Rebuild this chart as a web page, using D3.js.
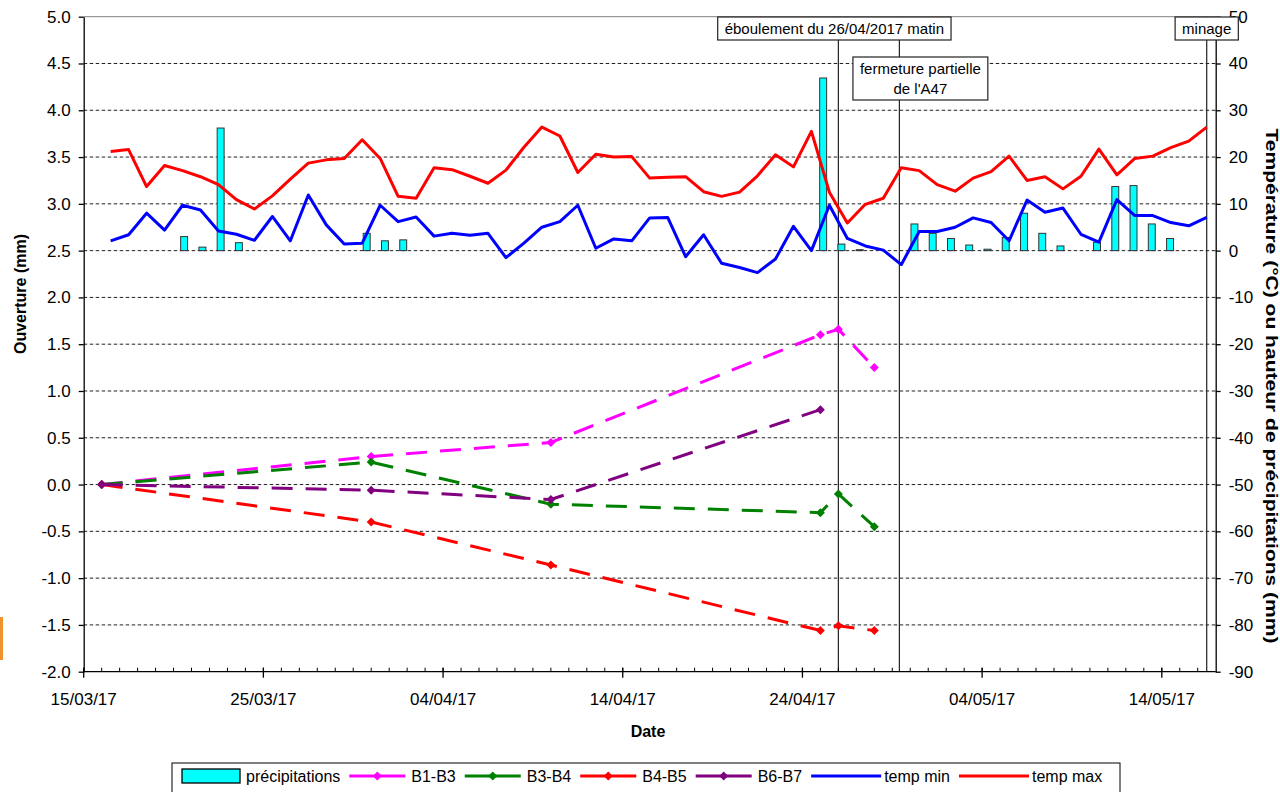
<!DOCTYPE html>
<html>
<head>
<meta charset="utf-8">
<script src="https://cdn.jsdelivr.net/npm/d3@7"></script>
<style>
  body { margin: 0; background: #fff; }
  svg { display: block; }
  text { font-family: "Liberation Sans", Arial, sans-serif; fill: #000; }
</style>
</head>
<body>
<svg id="chart" width="1280" height="792"></svg>
<script>
// ---- data ----------------------------------------------------------------
const utc = (y, m, d, h = 0, mi = 0) => new Date(Date.UTC(y, m, d, h, mi));

// daily weather readings (one per day, 16/03/2017 to 16/05/2017, taken at noon)
const weatherStart = utc(2017, 2, 16, 12);
const weatherDays = d3.range(62).map(i => d3.utcDay.offset(weatherStart, i));

const tempMin = [2.1, 3.4, 8.0, 4.4, 9.7, 8.7, 4.2, 3.5, 2.2, 7.3,
                 2.1, 11.9, 5.5, 1.4, 1.6, 9.7, 6.2, 7.2, 3.1, 3.7,
                 3.3, 3.7, -1.5, 1.6, 5.0, 6.2, 9.7, 0.5, 2.5, 2.1,
                 7.0, 7.1, -1.3, 3.4, -2.7, -3.6, -4.7, -1.8, 5.2, 0.0,
                 9.7, 2.6, 1.0, 0.1, -3.0, 4.1, 4.1, 5.0, 7.0, 6.0,
                 2.1, 10.8, 8.2, 9.1, 3.5, 1.8, 10.9, 7.5, 7.5, 6.0,
                 5.3, 7.1];

const tempMax = [21.2, 21.6, 13.7, 18.2, 17.1, 15.8, 14.1, 10.9, 8.9, 11.7,
                 15.3, 18.7, 19.4, 19.7, 23.7, 19.7, 11.6, 11.2, 17.7, 17.3,
                 15.9, 14.4, 17.2, 22.1, 26.4, 24.5, 16.7, 20.6, 20.0, 20.1,
                 15.5, 15.7, 15.8, 12.6, 11.6, 12.5, 16.0, 20.5, 17.9, 25.5,
                 12.5, 5.9, 9.9, 11.2, 17.7, 17.1, 14.1, 12.7, 15.5, 16.9,
                 20.2, 15.0, 15.8, 13.2, 15.9, 21.7, 16.2, 19.7, 20.2, 22.0,
                 23.4, 26.4];

const precipitation = [0, 0, 0, 0, 0, 3.0, 0.75, 26.2, 1.7, 0,
                       0, 0, 0, 0, 0, 3.7, 2.1, 2.3, 0, 0,
                       0, 0, 0, 0, 0, 0, 0, 0, 0, 0,
                       0, 0, 0, 0, 0, 0, 0, 0, 0, 0,
                       36.9, 1.4, 0.2, 0, 0, 5.7, 3.7, 2.6, 1.2, 0.3,
                       2.8, 8.0, 3.7, 1.0, 0, 1.8, 13.7, 13.9, 5.7, 2.6,
                       0, 0];

// crack opening survey dates and readings (mm)
const surveyDates = [utc(2017, 2, 16), utc(2017, 2, 31), utc(2017, 3, 10),
                     utc(2017, 3, 25), utc(2017, 3, 26), utc(2017, 3, 28)];
const b1b3 = [0, 0.30, 0.45, 1.60, 1.66, 1.25];
const b3b4 = [0, 0.24, -0.21, -0.30, -0.10, -0.45];
const b4b5 = [0, -0.40, -0.86, -1.56, -1.51, -1.56];
const b6b7 = [0, -0.06, -0.16, 0.80, null, null];

const seriesNames = ["B1-B3", "B3-B4", "B4-B5", "B6-B7"];
const seriesColors = ["#FF00FF", "#008000", "#FF0000", "#800080"];
const seriesValues = [b1b3, b3b4, b4b5, b6b7];

// events
const events = [
  { date: utc(2017, 3, 26), lines: ["éboulement du 26/04/2017 matin"] },
  { date: utc(2017, 3, 29, 9, 30), lines: ["fermeture partielle", "de l'A47"] },
  { date: utc(2017, 4, 16, 12), lines: ["minage"] }
];

const leftTicks = d3.range(-2, 5.01, 0.5);
const rightTicks = d3.range(-90, 51, 10);
const dateStart = utc(2017, 2, 15), dateEnd = utc(2017, 4, 17);

// ---- layout ----------------------------------------------------------------
const P = { left: 83.7, right: 1215.7, top: 16.7, bottom: 671.7 };
const svg = d3.select("#chart");

const x = d3.scaleUtc().domain([dateStart, dateEnd]).range([P.left, P.right]);
const yL = d3.scaleLinear().domain([-2, 5]).range([P.bottom, P.top]);
const yR = d3.scaleLinear().domain([-90, 50]).range([P.bottom, P.top]);
const xBar = d3.scaleBand().domain(d3.range(precipitation.length))
  .range([P.left, P.right]).paddingInner(0.62).paddingOuter(0.31);

// small orange strip at the left edge
svg.append("rect").attr("x", 0).attr("y", 617).attr("width", 3).attr("height", 43)
  .attr("fill", "#F0922E");

// horizontal dotted grid
svg.append("g").selectAll("line")
  .data(leftTicks.filter(v => v > -2 && v < 5))
  .join("line")
  .attr("x1", P.left).attr("x2", P.right)
  .attr("y1", d => yL(d)).attr("y2", d => yL(d))
  .attr("stroke", "#222").attr("stroke-width", 1)
  .attr("stroke-dasharray", "3.5,2.5");

// top frame line
svg.append("line").attr("x1", P.left).attr("x2", P.right)
  .attr("y1", P.top).attr("y2", P.top).attr("stroke", "#808080").attr("stroke-width", 1);

// event marker lines
svg.append("g").selectAll("line").data(events).join("line")
  .attr("x1", d => x(d.date)).attr("x2", d => x(d.date))
  .attr("y1", P.top).attr("y2", P.bottom)
  .attr("stroke", "#222").attr("stroke-width", 1.2);

// precipitation columns
svg.append("g").selectAll("rect")
  .data(precipitation.map((v, i) => ({ v, i })).filter(d => d.v > 0))
  .join("rect")
  .attr("x", d => xBar(d.i)).attr("width", xBar.bandwidth())
  .attr("y", d => yR(d.v)).attr("height", d => yR(0) - yR(d.v))
  .attr("fill", "#00FFFF").attr("stroke", "#333").attr("stroke-width", 1);

// crack opening series
const diamond = r => `M0,${-r}L${r},0L0,${r}L${-r},0Z`;
seriesValues.forEach((vals, s) => {
  const pts = vals.map((v, i) => ({ d: surveyDates[i], v })).filter(p => p.v !== null);
  svg.append("path").datum(pts)
    .attr("fill", "none").attr("stroke", seriesColors[s]).attr("stroke-width", 3)
    .attr("stroke-dasharray", "21,13")
    .attr("d", d3.line().x(p => x(p.d)).y(p => yL(p.v)));
  svg.append("g").selectAll("path").data(pts).join("path")
    .attr("transform", p => `translate(${x(p.d)},${yL(p.v)})`)
    .attr("d", diamond(4.5)).attr("fill", seriesColors[s]);
});

// temperatures
const tempLine = d3.line().x((d, i) => x(weatherDays[i])).y(d => yR(d));
svg.append("path").datum(tempMin).attr("fill", "none").attr("stroke", "#0000FF")
  .attr("stroke-width", 3).attr("stroke-linejoin", "round").attr("d", tempLine);
svg.append("path").datum(tempMax).attr("fill", "none").attr("stroke", "#FF0000")
  .attr("stroke-width", 3).attr("stroke-linejoin", "round").attr("d", tempLine);

// ---- axes ------------------------------------------------------------------
const fontSize = 17;
const gL = svg.append("g").attr("transform", `translate(${P.left},0)`)
  .call(d3.axisLeft(yL).tickValues(leftTicks).tickSize(5).tickSizeOuter(0)
    .tickPadding(8).tickFormat(v => v.toFixed(1)));
const gR = svg.append("g").attr("transform", `translate(${P.right},0)`)
  .call(d3.axisRight(yR).tickValues(rightTicks).tickSize(5).tickSizeOuter(0)
    .tickPadding(8).tickFormat(v => String(v)));
[gL, gR].forEach(g => {
  g.attr("font-family", null).attr("font-size", null);
  g.selectAll("path,line").attr("stroke", "#000").attr("stroke-width", 1.3);
  g.selectAll("text").style("font-size", fontSize + "px").attr("fill", "#222");
});

// date axis: daily minor ticks, labelled major ticks every 10 days
const gX = svg.append("g");
gX.append("line").attr("x1", P.left).attr("x2", P.right)
  .attr("y1", P.bottom).attr("y2", P.bottom).attr("stroke", "#000").attr("stroke-width", 1.3);
const majorDates = d3.utcDay.range(dateStart, dateEnd, 10);
gX.selectAll("line.minor").data(d3.utcDay.range(dateStart, dateEnd)).join("line")
  .attr("class", "minor")
  .attr("x1", d => x(d)).attr("x2", d => x(d))
  .attr("y1", P.bottom).attr("y2", P.bottom - 4)
  .attr("stroke", "#000").attr("stroke-width", 1);
gX.selectAll("line.major").data(majorDates).join("line")
  .attr("class", "major")
  .attr("x1", d => x(d)).attr("x2", d => x(d))
  .attr("y1", P.bottom - 4).attr("y2", P.bottom + 6)
  .attr("stroke", "#000").attr("stroke-width", 1.3);
const fmt = d3.utcFormat("%d/%m/%y");
gX.selectAll("text").data(majorDates).join("text")
  .attr("x", d => x(d)).attr("y", 705).attr("text-anchor", "middle")
  .style("font-size", fontSize + "px").attr("fill", "#222")
  .text(d => fmt(d));

// axis titles
svg.append("text").attr("transform", "translate(26,294) rotate(-90)")
  .attr("text-anchor", "middle").style("font-size", "16px").style("font-weight", "bold")
  .text("Ouverture (mm)");
svg.append("text").attr("transform", "translate(1266,386) rotate(90)")
  .attr("text-anchor", "middle").style("font-size", "16px").style("font-weight", "bold")
  .attr("textLength", 515).attr("lengthAdjust", "spacingAndGlyphs")
  .text("Température (°C) ou hauteur de précipitations (mm)");
svg.append("text").attr("x", 648).attr("y", 737).attr("text-anchor", "middle")
  .style("font-size", "16px").style("font-weight", "bold").text("Date");

// ---- event labels ----------------------------------------------------------
const labelOffsets = [{ dx: -4, top: 17 }, { dx: 21, top: 57 }, { dx: 0, top: 17 }];
events.forEach((ev, k) => {
  const g = svg.append("g");
  const cx = x(ev.date) + labelOffsets[k].dx;
  const lineH = 20;
  const texts = ev.lines.map((t, j) => g.append("text")
    .attr("x", cx).attr("y", labelOffsets[k].top + 17 + j * lineH)
    .attr("text-anchor", "middle").style("font-size", "15px").attr("fill", "#222").text(t));
  const w = d3.max(texts, t => t.node().getComputedTextLength()) + 14;
  const h = 23 + (ev.lines.length - 1) * lineH;
  g.insert("rect", "text").attr("x", cx - w / 2).attr("y", labelOffsets[k].top)
    .attr("width", w).attr("height", h)
    .attr("fill", "#fff").attr("stroke", "#222").attr("stroke-width", 1.2);
});

// ---- legend ----------------------------------------------------------------
const legend = svg.append("g");
legend.append("rect").attr("x", 172).attr("y", 763).attr("width", 948).attr("height", 40)
  .attr("fill", "#fff").attr("stroke", "#000").attr("stroke-width", 1);
const legendItems = [
  { name: "précipitations", type: "bar", color: "#00FFFF" },
  ...seriesNames.map((n, s) => ({ name: n, type: "marker", color: seriesColors[s] })),
  { name: "temp min", type: "line", color: "#0000FF" },
  { name: "temp max", type: "line", color: "#FF0000" }
];
let lx = 182;
const ly = 776;
legendItems.forEach(it => {
  if (it.type === "bar") {
    legend.append("rect").attr("x", lx).attr("y", ly - 7).attr("width", 58).attr("height", 14)
      .attr("fill", it.color).attr("stroke", "#000").attr("stroke-width", 1.3);
    lx += 64;
  } else if (it.type === "marker") {
    legend.append("line").attr("x1", lx).attr("x2", lx + 56).attr("y1", ly).attr("y2", ly)
      .attr("stroke", it.color).attr("stroke-width", 3);
    legend.append("path").attr("transform", `translate(${lx + 28},${ly})`)
      .attr("d", diamond(4.5)).attr("fill", it.color);
    lx += 62;
  } else {
    legend.append("line").attr("x1", lx).attr("x2", lx + 70).attr("y1", ly).attr("y2", ly)
      .attr("stroke", it.color).attr("stroke-width", 3);
    lx += 73;
  }
  const t = legend.append("text").attr("x", lx).attr("y", ly + 6)
    .style("font-size", "16px").attr("fill", "#222").text(it.name);
  lx += t.node().getComputedTextLength() + 9;
});
</script>
</body>
</html>
